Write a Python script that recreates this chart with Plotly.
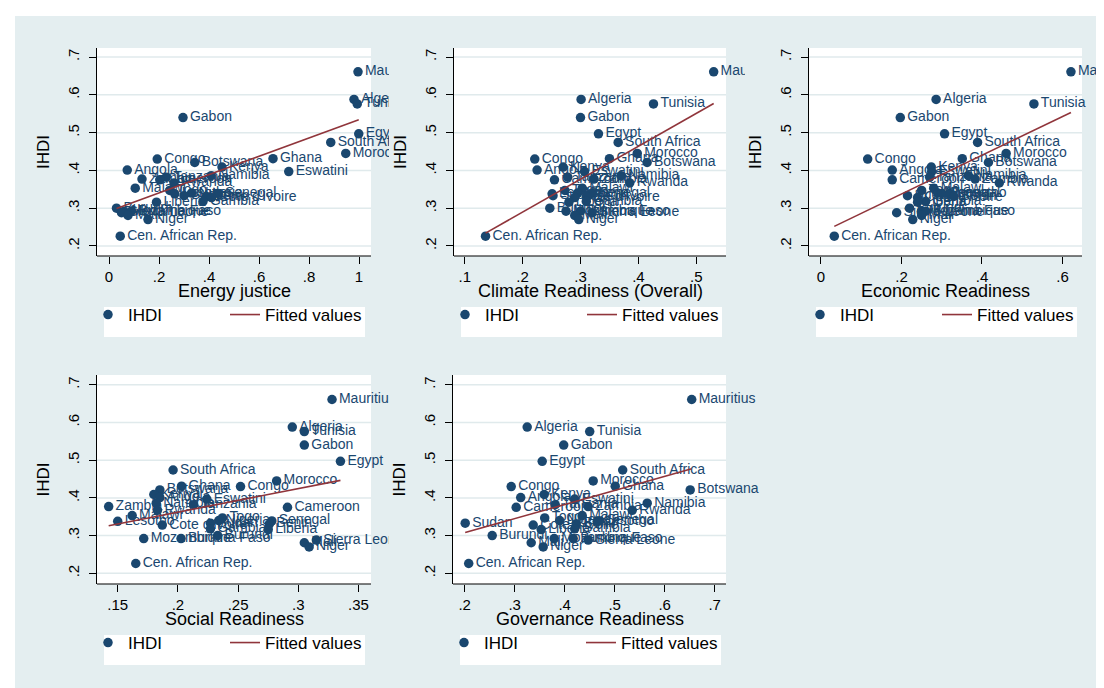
import numpy as np
import plotly.graph_objects as go

# ---------------- data ----------------
countries = [
    "Mauritius", "Algeria", "Tunisia", "Gabon", "Egypt", "South Africa", "Morocco",
    "Ghana", "Congo", "Botswana", "Kenya", "Angola", "Eswatini", "Namibia",
    "Tanzania", "Zambia", "Cameroon", "Rwanda", "Malawi", "Togo", "Nigeria",
    "Senegal", "Lesotho", "Sudan", "Benin", "Cote d'Ivoire", "Gambia", "Liberia",
    "Burundi", "Mozambique", "Burkina Faso", "Sierra Leone", "Mali", "Niger",
    "Cen. African Rep.",
]
ihdi = [
    0.661, 0.588, 0.576, 0.540, 0.497, 0.474, 0.445,
    0.431, 0.430, 0.421, 0.409, 0.401, 0.397, 0.386,
    0.382, 0.377, 0.375, 0.367, 0.353, 0.347, 0.340,
    0.339, 0.338, 0.333, 0.331, 0.328, 0.318, 0.316,
    0.300, 0.292, 0.292, 0.288, 0.281, 0.270,
    0.226,
]
energy_justice = [
    0.996, 0.980, 0.993, 0.296, 0.999, 0.887, 0.947,
    0.656, 0.193, 0.343, 0.452, 0.073, 0.719, 0.409,
    0.229, 0.132, 0.203, 0.260, 0.105, 0.243, 0.330,
    0.436, 0.263, 0.300, 0.390, 0.410, 0.376, 0.190,
    0.030, 0.060, 0.090, 0.050, 0.076, 0.156,
    0.045,
]
climate_readiness = [
    0.530, 0.301, 0.426, 0.300, 0.331, 0.365, 0.398,
    0.350, 0.221, 0.415, 0.270, 0.225, 0.307, 0.370,
    0.278, 0.323, 0.255, 0.385, 0.303, 0.273, 0.295,
    0.319, 0.251, 0.2525, 0.310, 0.290, 0.310, 0.280,
    0.247, 0.275, 0.300, 0.320, 0.290, 0.297,
    0.136,
]
economic_readiness = [
    0.621, 0.286, 0.529, 0.197, 0.307, 0.389, 0.460,
    0.351, 0.116, 0.416, 0.274, 0.177, 0.275, 0.366,
    0.270, 0.383, 0.177, 0.443, 0.280, 0.250, 0.290,
    0.300, 0.320, 0.215, 0.330, 0.240, 0.260, 0.240,
    0.220, 0.250, 0.260, 0.188, 0.250, 0.228,
    0.033,
]
social_readiness = [
    0.328, 0.295, 0.305, 0.305, 0.335, 0.196, 0.282,
    0.203, 0.252, 0.185, 0.180, 0.185, 0.224, 0.182,
    0.213, 0.1425, 0.291, 0.183, 0.162, 0.237, 0.234,
    0.278, 0.150, 0.227, 0.276, 0.187, 0.227, 0.275,
    0.233, 0.1716, 0.2026, 0.315, 0.305, 0.309,
    0.165,
]
governance_readiness = [
    0.654, 0.325, 0.450, 0.398, 0.355, 0.516, 0.457,
    0.501, 0.293, 0.651, 0.359, 0.312, 0.420, 0.565,
    0.381, 0.447, 0.303, 0.535, 0.435, 0.360, 0.390,
    0.470, 0.465, 0.201, 0.423, 0.337, 0.420, 0.353,
    0.255, 0.379, 0.417, 0.447, 0.333, 0.357,
    0.208,
]

x_titles = ["Energy justice", "Climate Readiness (Overall)", "Economic Readiness",
            "Social Readiness", "Governance Readiness"]
x_tick_vals = [[0, 0.2, 0.4, 0.6, 0.8, 1], [0.1, 0.2, 0.3, 0.4, 0.5], [0, 0.2, 0.4, 0.6],
               [0.15, 0.2, 0.25, 0.3, 0.35], [0.2, 0.3, 0.4, 0.5, 0.6, 0.7]]
x_tick_text = [["0", ".2", ".4", ".6", ".8", "1"], [".1", ".2", ".3", ".4", ".5"],
               ["0", ".2", ".4", ".6"], [".15", ".2", ".25", ".3", ".35"],
               [".2", ".3", ".4", ".5", ".6", ".7"]]
y_tick_vals = [0.2, 0.3, 0.4, 0.5, 0.6, 0.7]
y_tick_text = [".2", ".3", ".4", ".5", ".6", ".7"]
y_title = "IHDI"
fit_name = "Fitted values"

series = [energy_justice, climate_readiness, economic_readiness,
          social_readiness, governance_readiness]

# ---------------- layout / style ----------------
W, H = 1104, 688
NAVY = "#1a476f"
MAROON = "#90353b"
BG = "#e4eef0"
GRID = "#e0eaec"
FONT = "Arial, Liberation Sans, sans-serif"

# pixel boxes of each plot region
panels = [
    dict(l=89, r=363, clip=381, t=40, b=248, x0=-0.048, ppu=250.0, yr=(0.1735, 0.724)),
    dict(l=446, r=718, clip=737, t=40, b=248, x0=0.0815, ppu=579.0, yr=(0.1735, 0.724)),
    dict(l=801, r=1074, clip=1100, t=40, b=248, x0=-0.0298, ppu=402.5, yr=(0.1735, 0.724)),
    dict(l=89, r=363, clip=381, t=367, b=576, x0=0.1328, ppu=1204.0, yr=(0.1716, 0.726)),
    dict(l=445, r=718, clip=762, t=367, b=576, x0=0.1766, ppu=500.0, yr=(0.1716, 0.726)),
]


def fx(p):
    return p / W


def fy(p):
    return 1 - p / H


fig = go.Figure()
shapes = [
    dict(type="rect", xref="paper", yref="paper", x0=0, x1=fx(7), y0=0, y1=1,
         fillcolor="white", line=dict(width=0), layer="below"),
    dict(type="rect", xref="paper", yref="paper", x0=0, x1=1, y0=fy(8), y1=1,
         fillcolor="white", line=dict(width=0), layer="below"),
]
annotations = []
layout_axes = {}
legends = {}

for i, (xs, p) in enumerate(zip(series, panels)):
    n = i + 1
    sfx = "" if n == 1 else str(n)
    xa, ya, lg = "x" + sfx, "y" + sfx, "legend" + sfx

    fig.add_trace(go.Scatter(
        x=xs, y=ihdi, mode="markers", name=y_title,
        marker=dict(color=NAVY, size=9.5, line=dict(width=0)),
        xaxis=xa, yaxis=ya, legend=lg, hoverinfo="skip"))
    fig.add_trace(go.Scatter(
        x=xs, y=ihdi, mode="markers+text", text=countries, textposition="middle right",
        marker=dict(size=9.5, opacity=0), textfont=dict(color=NAVY, size=14, family=FONT),
        showlegend=False, xaxis=xa, yaxis=ya, hoverinfo="skip"))
    slope, icpt = np.polyfit(np.array(xs), np.array(ihdi), 1)
    xl = np.array([min(xs), max(xs)])
    fig.add_trace(go.Scatter(
        x=xl, y=slope * xl + icpt, mode="lines", name=fit_name,
        line=dict(color=MAROON, width=1.6), xaxis=xa, yaxis=ya, legend=lg,
        hoverinfo="skip"))

    xr = [p["x0"], p["x0"] + (p["clip"] - p["l"]) / p["ppu"]]
    layout_axes["xaxis" + sfx] = dict(
        domain=[fx(p["l"]), fx(p["clip"])], range=xr, anchor=ya,
        tickvals=x_tick_vals[i], ticktext=x_tick_text[i],
        ticks="outside", ticklen=7, tickwidth=1.2, tickcolor="black",
        showline=False, showgrid=False, zeroline=False,
        tickfont=dict(family=FONT, size=15, color="black"),
    )
    layout_axes["yaxis" + sfx] = dict(
        domain=[fy(p["b"]), fy(p["t"])], range=list(p["yr"]), anchor=xa,
        tickvals=y_tick_vals, ticktext=y_tick_text, tickangle=-90,
        ticks="outside", ticklen=7, tickwidth=1.2, tickcolor="black",
        ticklabelstandoff=4,
        showline=True, linecolor="black", linewidth=1.2,
        showgrid=False, zeroline=False,
        tickfont=dict(family=FONT, size=15, color="black"),
        title=dict(text=y_title, font=dict(family=FONT, size=17, color="black"), standoff=10),
    )
    # x-axis title
    annotations.append(dict(
        text=x_titles[i], xref="paper", yref="paper",
        x=fx((p["l"] + p["r"]) / 2), y=fy(p["b"] + 34.5),
        xanchor="center", yanchor="middle", showarrow=False,
        font=dict(family=FONT, size=18, color="black")))
    # plot region background, grid lines and bottom axis line
    shapes.append(dict(type="rect", xref="paper", yref="paper",
                       x0=fx(p["l"]), x1=fx(p["r"]), y0=fy(p["b"]), y1=fy(p["t"]),
                       fillcolor="white", line=dict(width=0), layer="below"))
    for t in y_tick_vals:
        shapes.append(dict(type="line", xref="paper", yref=ya,
                           x0=fx(p["l"]), x1=fx(p["r"]), y0=t, y1=t,
                           line=dict(color=GRID, width=1.5), layer="below"))
    shapes.append(dict(type="line", xref="paper", yref="paper",
                       x0=fx(p["l"]), x1=fx(p["r"]), y0=fy(p["b"]), y1=fy(p["b"]),
                       line=dict(color="black", width=1.2), layer="below"))
    # legend box (white) and legend
    box_l, box_t = p["l"] + 7, p["b"] + 51
    shapes.append(dict(type="rect", xref="paper", yref="paper",
                       x0=fx(box_l), x1=fx(box_l + 261), y0=fy(box_t + 30), y1=fy(box_t),
                       fillcolor="white", line=dict(width=0), layer="below"))
    legends[lg] = dict(
        x=fx(box_l - 16), y=fy(box_t - 10), xanchor="left", yanchor="top",
        orientation="h", bgcolor="rgba(0,0,0,0)", borderwidth=0,
        font=dict(family=FONT, size=17, color="black"),
        entrywidth=92, entrywidthmode="pixels", itemwidth=30, traceorder="normal",
    )

fig.update_layout(
    width=W, height=H, margin=dict(l=0, r=0, t=0, b=0),
    paper_bgcolor=BG, plot_bgcolor="rgba(0,0,0,0)",
    font=dict(family=FONT, color="black"),
    shapes=shapes, annotations=annotations, **layout_axes, **legends,
)

fig.write_html("out.html")
